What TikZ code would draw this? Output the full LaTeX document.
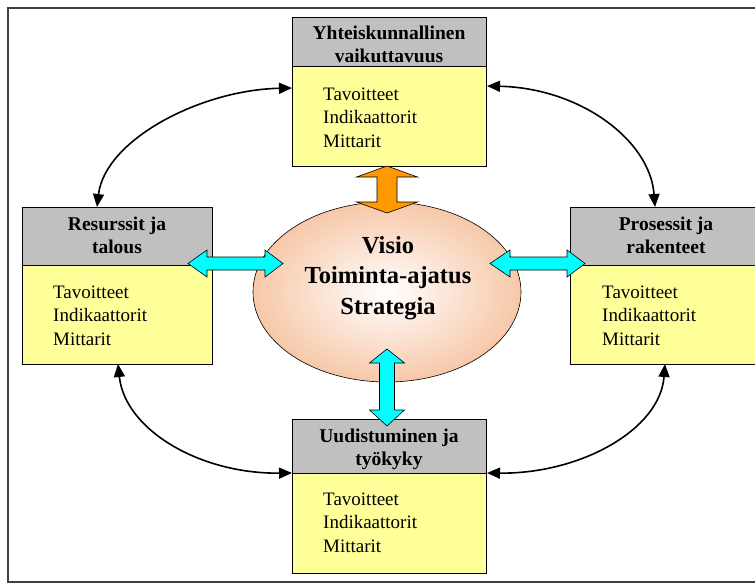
\documentclass[tikz,border=0pt]{standalone}
\usepackage{fontspec}
\setmainfont{Liberation Serif}
\usetikzlibrary{shapes.geometric,arrows.meta,calc}
\definecolor{hdrgray}{HTML}{C0C0C0}
\definecolor{boxyellow}{HTML}{FFFF99}
\definecolor{arrorange}{HTML}{FF9900}
\definecolor{arrcyan}{HTML}{00FFFF}
\definecolor{peach}{HTML}{F7C8A8}
\definecolor{framegray}{HTML}{404040}
\begin{document}
\begin{tikzpicture}[x=1pt,y=-1pt,
  hdr/.style={draw=black, line width=1pt, fill=hdrgray, inner sep=0, anchor=north west},
  body/.style={draw=black, line width=1pt, fill=boxyellow, inner sep=0, anchor=north west},
  hdrtext/.style={font=\fontsize{19.5}{23}\selectfont\bfseries, align=center, anchor=base, inner sep=0},
  bodytext/.style={font=\fontsize{19}{23.5}\selectfont, align=left, anchor=base west, inner sep=0},
  link/.style={line width=1.6pt, {Triangle[length=13pt,width=11pt]}-{Triangle[length=13pt,width=11pt]}},
  blockarrow/.style={draw=black, line width=0.6pt},
]
\useasboundingbox (0,0) rectangle (755,583);
\fill[white] (0,0) rectangle (755,583);
\draw[framegray, line width=1.5pt] (8,8) rectangle (770,582);

% central ellipse
\node[ellipse, draw=black, line width=0.6pt, minimum width=268, minimum height=180, inner sep=0,
      inner color=white, outer color=peach] (vision) at (387,292) {};
\node[font=\fontsize{24.5}{30.5}\selectfont\bfseries, align=center, anchor=base, inner sep=0]
  (visiontext) at (388,314) {Visio\\Toiminta-ajatus\\Strategia};

% top box
\node[hdr, minimum width=194, minimum height=49] (topH) at (292,17) {};
\node[body, minimum width=194, minimum height=100] (topB) at (292,66) {};
\node[hdrtext] (topHT) at (389,63) {Yhteiskunnallinen\\vaikuttavuus};
\node[bodytext] (topBT) at (323,147) {Tavoitteet\\Indikaattorit\\Mittarit};

% left box
\node[hdr, minimum width=190, minimum height=58] (leftH) at (22,207) {};
\node[body, minimum width=190, minimum height=99] (leftB) at (22,265) {};
\node[hdrtext] (leftHT) at (117,253) {Resurssit ja\\talous};
\node[bodytext] (leftBT) at (53,345) {Tavoitteet\\Indikaattorit\\Mittarit};

% right box
\node[hdr, minimum width=190, minimum height=58] (rightH) at (570,207) {};
\node[body, minimum width=190, minimum height=99] (rightB) at (570,265) {};
\node[hdrtext] (rightHT) at (666,253) {Prosessit ja\\rakenteet};
\node[bodytext] (rightBT) at (602,345) {Tavoitteet\\Indikaattorit\\Mittarit};

% bottom box
\node[hdr, minimum width=194, minimum height=54] (botH) at (292,419) {};
\node[body, minimum width=194, minimum height=100] (botB) at (292,473) {};
\node[hdrtext] (botHT) at (389,465) {Uudistuminen ja\\työkyky};
\node[bodytext] (botBT) at (323,552) {Tavoitteet\\Indikaattorit\\Mittarit};

% curved links
\coordinate (tlA) at ($(topB.north west)+(0,22)$);
\coordinate (tlB) at (97,207);
\coordinate (trA) at ($(topB.north east)+(0,20)$);
\coordinate (trB) at (655,207);
\coordinate (blA) at (118,364);
\coordinate (blB) at (botB.north west);
\coordinate (brA) at (665,364);
\coordinate (brB) at (botB.north east);
\draw[link] (tlA) .. controls (200,90) and (105,140) .. (tlB);
\draw[link] (trA) .. controls (580,88) and (650,140) .. (trB);
\draw[link] (blA) .. controls (125,430) and (200,474) .. (blB);
\draw[link] (brA) .. controls (660,430) and (580,474) .. (brB);

% block arrows
\filldraw[blockarrow, fill=arrorange] (387,166) -- (417.5,177) -- (397,177) -- (397,202) -- (417.5,202)
  -- (387,213) -- (356.5,202) -- (377,202) -- (377,177) -- (356.5,177) -- cycle;
\filldraw[blockarrow, fill=arrcyan] (188,263.5) -- (207,250) -- (207,257) -- (265,257) -- (265,250)
  -- (283,263.5) -- (265,277) -- (265,270) -- (207,270) -- (207,277) -- cycle;
\filldraw[blockarrow, fill=arrcyan] (490,263.5) -- (510,250) -- (510,257) -- (567,257) -- (567,250)
  -- (585,263.5) -- (567,277) -- (567,270) -- (510,270) -- (510,277) -- cycle;
\filldraw[blockarrow, fill=arrcyan] (387,349) -- (404.5,363) -- (394.5,363) -- (394.5,410) -- (404.5,410)
  -- (387,426) -- (369.5,410) -- (379.5,410) -- (379.5,363) -- (369.5,363) -- cycle;
\end{tikzpicture}
\end{document}
